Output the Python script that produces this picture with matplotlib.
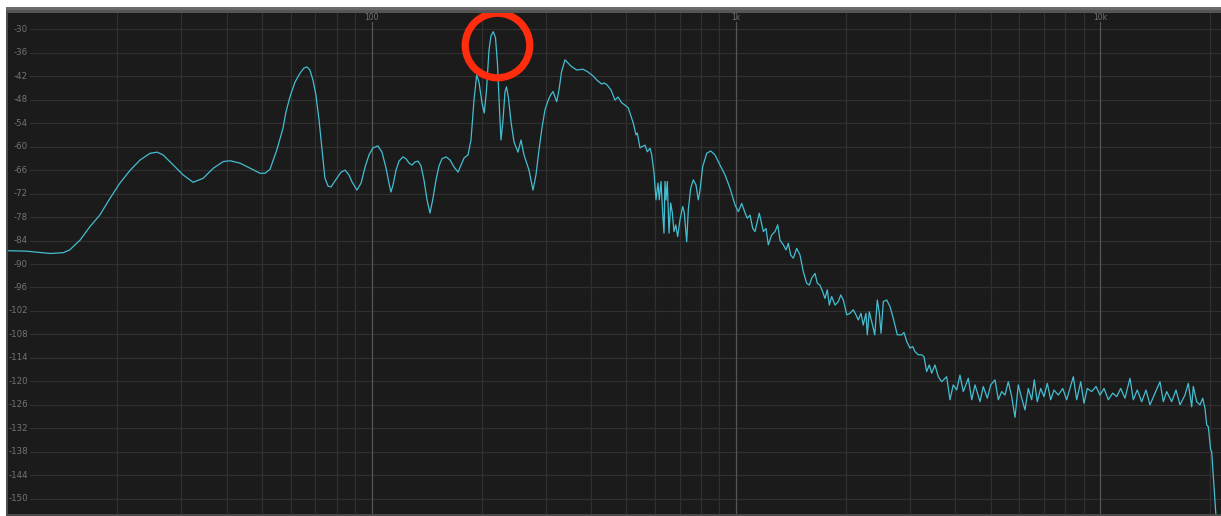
"""
spectrum.py

Draws an analyzer-style magnitude spectrum (dark panel, log frequency axis)
and rings the strongest peak.
"""
import matplotlib
matplotlib.use("Agg")
import matplotlib.pyplot as plt
from matplotlib.patches import Rectangle

# --- spectrum trace, split by band (Hz, dB) ---
LOW_HZ = [
    10.0, 11.2, 13.1, 14.2, 14.8, 15.3, 15.8, 16.8, 17.9, 19.1, 20.3, 21.7, 23.1, 24.6,
    25.7, 26.7, 28.5, 30.3, 32.3, 34.4, 36.7, 39.1, 40.8, 43.4, 46.3, 49.3, 50.9, 52.5,
    54.8, 57.0, 58.1, 59.6, 61.5, 63.5, 65.1, 66.3, 67.6, 68.9, 70.2, 71.6, 73.0, 74.3,
    75.8, 77.2, 80.2, 82.3, 84.4, 86.5, 88.2, 91.0, 93.4, 95.8, 98.2, 100.7, 103.9, 106.6,
    109.3, 111.4, 112.8, 114.3, 116.5, 118.7, 121.7, 124.1, 126.5, 128.9, 131.3, 133.9,
    136.4, 139.0, 141.7, 144.4, 147.2, 150.0, 152.9, 155.8, 159.8, 163.9, 168.1, 172.4,
    175.7, 179.1, 183.6, 187.1, 190.7, 194.0, 196.8, 200.6, 203.5, 206.4, 209.7, 212.3,
    215.4, 218.5, 221.3, 224.1, 226.2, 229.1, 232.0, 234.2, 237.2, 241.0, 245.6, 251.9,
    256.7, 261.6, 270.0, 276.9, 282.2, 287.6, 293.1, 298.7, 305.0, 309.4, 314.3, 321.7,
    326.4, 331.6, 339.0, 345.5, 352.1, 365.0, 379.8, 392.0, 404.6, 415.0, 427.6, 433.9,
    442.2, 453.5, 465.1, 474.0, 485.2, 494.2, 505.8,
]
LOW_DB = [
    -86.6, -86.7, -87.3, -87.1, -86.4, -85.1, -83.9, -80.5, -77.5, -73.2, -69.4, -66.0, -63.4, -61.7,
    -61.4, -62.1, -64.7, -67.2, -69.1, -68.1, -65.5, -63.8, -63.6, -64.2, -65.5, -66.8, -66.8, -65.8,
    -60.9, -55.3, -51.1, -47.2, -43.5, -41.2, -39.9, -39.6, -40.4, -43.0, -46.8, -53.2, -60.8, -68.0,
    -70.1, -70.3, -68.0, -66.5, -66.0, -67.2, -69.0, -71.1, -69.3, -65.2, -62.1, -60.3, -59.8, -61.4,
    -65.4, -69.3, -71.6, -69.8, -66.0, -63.7, -62.6, -63.1, -64.2, -64.7, -63.9, -63.7,
    -64.9, -68.5, -73.6, -77.0, -73.1, -68.5, -64.9, -63.1, -62.6, -63.4, -65.2, -66.5,
    -64.7, -62.9, -62.1, -58.3, -48.1, -41.7, -43.5, -48.8, -51.4, -45.5, -35.3, -31.7,
    -30.6, -32.2, -39.1, -50.6, -58.3, -53.2, -46.0, -44.7, -47.6, -53.7, -58.8, -61.4,
    -58.3, -62.1, -66.0, -71.1, -67.2, -60.8, -55.2, -50.6, -48.1, -46.8, -45.9, -48.5,
    -45.5, -40.9, -37.8, -38.6, -39.4, -40.4, -40.2, -40.9, -41.9, -43.0, -44.0, -43.7,
    -44.2, -45.5, -48.1, -47.3, -48.8, -49.3, -50.1,
]

MID_HZ = [
    522.1, 531.1, 535.5, 544.7, 562.3, 570.5, 580.3, 586.6, 595.2, 602.7, 610.4,
    615.3, 622.0, 628.7, 633.9, 638.0, 642.0, 647.3, 654.4, 661.4, 668.1, 675.3, 682.7,
    691.2, 701.4, 713.5, 720.7, 731.8, 739.2, 750.4, 762.9, 776.1, 787.4, 796.0, 809.7,
    830.4, 851.7, 875.0, 903.2, 932.2, 962.1, 993.1,
    1014, 1036, 1058, 1073, 1092, 1111, 1127, 1158, 1188, 1208, 1226, 1252, 1279, 1301,
    1320, 1348, 1371, 1391, 1412, 1436, 1467, 1498, 1529, 1562, 1589, 1613, 1647, 1671,
    1700, 1729, 1754, 1780, 1803, 1830, 1869, 1908, 1938, 1970, 2013, 2055, 2098, 2134,
    2165, 2202, 2234, 2273, 2292, 2321, 2362, 2403, 2442, 2474, 2500, 2537, 2592, 2646,
    2702, 2771, 2849, 2891, 2941, 3003, 3055, 3099, 3164, 3233, 3280, 3336, 3392, 3444,
]
MID_DB = [
    -54.0, -57.0, -56.5, -60.3, -59.6, -61.3, -60.4, -62.1, -66.7, -73.6, -69.3,
    -73.6, -68.9, -76.9, -82.1, -68.9, -73.6, -68.9, -82.1, -74.4, -76.9, -81.7, -80.0,
    -83.0, -78.7, -75.3, -76.9, -84.3, -76.2, -70.6, -68.5, -69.8, -73.6, -71.1, -65.1,
    -61.7, -61.1, -62.1, -64.7, -67.2, -70.6, -74.9,
    -76.6, -74.5, -76.9, -78.3, -77.5, -80.9, -81.7, -77.0, -81.7, -80.9, -85.1, -82.6, -81.7, -80.0,
    -83.9, -85.1, -86.4, -84.7, -87.7, -88.5, -86.0, -87.7, -91.9, -94.9, -95.4, -93.6, -92.4, -94.9,
    -95.4, -97.1, -98.8, -96.6, -100.5, -98.3, -100.5, -99.6, -97.9, -99.2, -103.0, -102.6, -101.7, -103.0,
    -104.3, -102.6, -105.6, -102.6, -108.1, -102.2, -105.1, -108.1, -99.2, -102.6, -107.7, -99.6, -99.2, -100.9,
    -103.9, -108.1, -108.1, -107.5, -109.8, -111.5, -111.1, -112.4, -113.2, -113.2, -113.7, -117.5, -115.8, -117.9,
]

HIGH_HZ = [
    3516, 3591, 3668, 3786, 3866, 3947, 4033, 4118, 4205, 4341, 4436, 4529, 4675, 4772,
    4895, 5002, 5139, 5247, 5362, 5474, 5590, 5711, 5832, 5954, 6084, 6212, 6343, 6480,
    6588, 6714, 6860, 7005, 7153, 7308, 7463, 7668, 7884, 8085, 8256, 8431, 8614, 8835,
    9021, 9212, 9472, 9732, 9982, 10238, 10520, 10814, 11092, 11376, 11689, 12066, 12319,
    12635, 12992, 13350, 13693, 14133, 14587, 14894, 15218, 15703, 16140, 16552, 17083,
    17444, 17823, 18001, 18393, 18782, 19105, 19385, 19596, 19795, 20094, 20223, 20779,
]
HIGH_DB = [
    -115.8, -118.8, -120.1, -118.8, -124.7, -120.9, -122.2, -118.4, -122.6, -119.2, -124.7, -120.9, -125.2, -121.3,
    -124.3, -120.9, -119.6, -124.7, -122.6, -123.5, -120.1, -123.9, -129.2, -120.9, -124.3, -127.3, -121.8, -124.7,
    -119.6, -125.2, -121.8, -123.9, -120.5, -124.7, -122.2, -123.5, -121.8, -124.7, -121.8, -118.8, -124.7, -120.1,
    -125.6, -121.8, -122.6, -121.3, -123.5, -121.8, -124.7, -123.0, -123.9, -121.8, -124.3, -119.2, -124.7,
    -122.2, -125.2, -122.2, -126.0, -123.0, -120.1, -125.2, -122.6, -125.2, -122.2, -126.0, -123.5,
    -120.5, -126.5, -121.3, -125.2, -126.0, -124.3, -126.9, -131.1, -131.6, -137.5, -138.0, -154.4,
]

FREQ_HZ = LOW_HZ + MID_HZ + HIGH_HZ
LEVEL_DB = LOW_DB + MID_DB + HIGH_DB
assert len(FREQ_HZ) == len(LEVEL_DB)

# --- axes ---
DB_TICKS = list(range(-30, -151, -6))
MAJOR_HZ = [100, 1000, 10000]
MAJOR_LABELS = ["100", "1k", "10k"]
MINOR_HZ = [20, 30, 40, 50, 60, 70, 80, 90,
            200, 300, 400, 500, 600, 700, 800, 900,
            2000, 3000, 4000, 5000, 6000, 7000, 8000, 9000, 20000]
F_MIN, F_MAX = 10.02, 21450
DB_MIN, DB_MAX = -153.9, -25.83

# peak marked with a ring
PEAK_HZ, PEAK_DB = 220, -33.9

BG = "#1b1b1b"
GRID = "#303030"
GRID_MAJOR = "#555555"
TEXT = "#747474"
TRACE = "#44bdd1"
RING = "#ff2d0d"

W, H, DPI = 1221, 516, 100
fig = plt.figure(figsize=(W / DPI, H / DPI), dpi=DPI, facecolor="white")

# panel frame: gray bar on top, thin strips left and bottom
fig.patches.append(Rectangle((6 / W, 0), 2 / W, 509 / H, transform=fig.transFigure,
                             facecolor="#4e4e4e", edgecolor="none"))
fig.patches.append(Rectangle((6 / W, (H - 10) / H), 1 - 6 / W, 3 / H, transform=fig.transFigure,
                             facecolor="#6a6a6a", edgecolor="none"))
fig.patches.append(Rectangle((6 / W, (H - 13) / H), 1 - 6 / W, 3 / H, transform=fig.transFigure,
                             facecolor="#555555", edgecolor="none"))
fig.patches.append(Rectangle((6 / W, 0), 1, 2 / H, transform=fig.transFigure,
                             facecolor="#4a4a4a", edgecolor="none"))

ax = fig.add_axes([8 / W, 2 / H, (W - 8) / W, 501 / H])
ax.set_facecolor(BG)
ax.set_xscale("log")
ax.set_xlim(F_MIN, F_MAX)
ax.set_ylim(DB_MIN, DB_MAX)
for s in ax.spines.values():
    s.set_visible(False)
ax.set_xticks([])
ax.set_yticks([])
ax.minorticks_off()

# horizontal grid starts right of the level labels
label_gap = 22 / (W - 8)
for db in DB_TICKS:
    ax.axhline(db, xmin=label_gap, xmax=1, color=GRID, lw=0.9, zorder=1)
    ax.text(20 / (W - 8), db, str(db), transform=ax.get_yaxis_transform(),
            ha="right", va="center", fontsize=6.2, color=TEXT, zorder=2)

for f in MINOR_HZ:
    ax.axvline(f, color=GRID, lw=0.9, zorder=1)

# major lines stop below their label
top_gap = 1 - 9 / 501
for f, lab in zip(MAJOR_HZ, MAJOR_LABELS):
    ax.axvline(f, ymin=0, ymax=top_gap, color=GRID_MAJOR, lw=0.9, zorder=1)
    ax.text(f, 1 - 5 / 501, lab, transform=ax.get_xaxis_transform(),
            ha="center", va="center", fontsize=5.5, color=TEXT, zorder=2)

ax.plot(FREQ_HZ, LEVEL_DB, color=TRACE, lw=0.9, zorder=3, solid_joinstyle="round")

ax.plot([PEAK_HZ], [PEAK_DB], marker="o", ms=46.5, mfc="none", mec=RING, mew=5.2,
        clip_on=False, zorder=5)

fig.savefig("out.png", dpi=DPI, facecolor="white")
